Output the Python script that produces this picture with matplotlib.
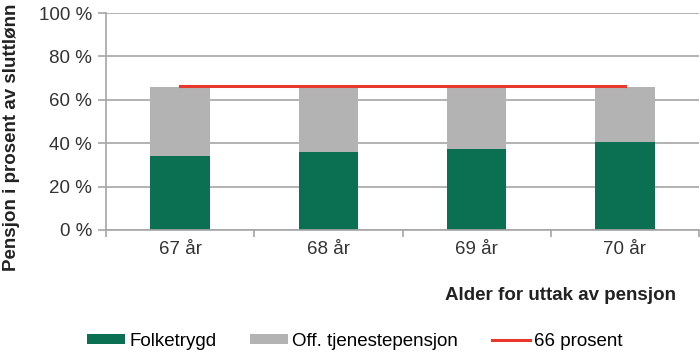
import matplotlib.pyplot as plt
import numpy as np

plt.rcParams['font.family'] = ['Liberation Sans', 'DejaVu Sans']

# data
alder = ['67 år', '68 år', '69 år', '70 år']
folketrygd = [34.1, 35.8, 37.5, 40.4]
tjenestepensjon = [31.8, 29.8, 28.2, 25.5]
prosent66 = [66.5, 66.5, 66.5, 66.5]

green = '#0b7052'
grey = '#b3b3b3'
red = '#e8382b'
axcol = '#a6a6a6'

fig = plt.figure(figsize=(7.0, 3.53), dpi=100)
ax = fig.add_axes([106/700, 123/353, 593/700, 217/353])

x = np.arange(len(alder))
b1 = ax.bar(x, folketrygd, width=0.4, color=green, label='Folketrygd', zorder=2)
b2 = ax.bar(x, tjenestepensjon, width=0.4, bottom=folketrygd, color=grey,
            label='Off. tjenestepensjon', zorder=2)
l1, = ax.plot(x, prosent66, color=red, lw=2.2, label='66 prosent', zorder=3)

ax.set_xlim(-0.5, 3.5)
ax.set_ylim(0, 100)
ax.set_yticks(range(0, 101, 20))
ax.set_yticklabels([f'{v} %' for v in range(0, 101, 20)], fontsize=13.5, color='#333333')
ax.set_xticks(x)
ax.set_xticklabels(alder, fontsize=13.5, color='#333333')
ax.set_xticks(np.arange(-0.5, 4, 1), minor=True)
ax.tick_params(axis='x', which='major', length=0, pad=8)
ax.tick_params(axis='x', which='minor', length=5, color=axcol, width=1.2)
ax.tick_params(axis='y', length=6, color=axcol, width=1.2, pad=4)

ax.grid(axis='y', color=axcol, lw=1.2, zorder=0)
for s in ['top', 'right']:
    ax.spines[s].set_visible(False)
for s in ['left', 'bottom']:
    ax.spines[s].set_color(axcol)
    ax.spines[s].set_linewidth(1.2)

fig.text(12/700, 1 - 137/353, 'Pensjon i prosent av sluttlønn', fontsize=13.5, fontweight='bold',
         rotation=90, ha='center', va='center', color='#222222')
fig.text(676/700, 1 - 295/353, 'Alder for uttak av pensjon', fontsize=13.5, fontweight='bold',
         ha='right', va='center', color='#222222')

fig.legend([b1, b2, l1], ['Folketrygd', 'Off. tjenestepensjon', '66 prosent'],
           loc='center', bbox_to_anchor=(355/700, 1 - 341/353), ncol=3, frameon=False,
           fontsize=13.5, handlelength=2.0, handleheight=0.45, handletextpad=0.25,
           columnspacing=1.8)

fig.savefig('out.png', dpi=100)
